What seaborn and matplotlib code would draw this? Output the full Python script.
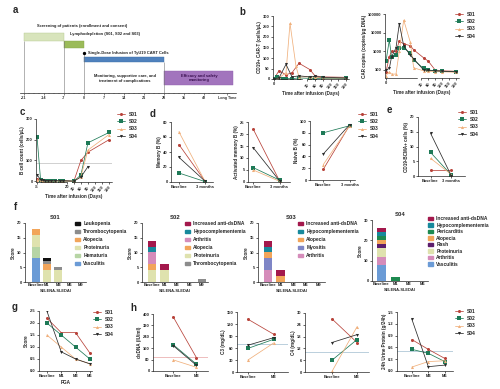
import numpy as np
import seaborn as sns
import matplotlib.pyplot as plt
from matplotlib.lines import Line2D
from matplotlib.patches import Patch

W, H = 500, 389
nan = np.nan

subjects = ["S01", "S02", "S03", "S04"]

# a: treatment timeline (days)
timeline_ticks = [-21, -14, -7, 0, 7, 14, 21, 28, 35, 42]
long_time_day = 50
phase_start = [-21, -7, 0, 28]
phase_end = [-7, 0, 28, 52]

# b: CAR-T kinetics
b_days = [0, 3, 5, 9, 12, 16, 18, 22, 25, 40, 60, 90, 120, 180]
cart_cells = {
    "S01": [0, nan, 40, nan, 20, nan, 30, nan, 75, 45, 15, 10, nan, 8],
    "S02": [0, 10, nan, 2, 2, nan, 2, nan, 5, 3, 3, 3, nan, 3],
    "S03": [0, nan, 5, nan, 30, 265, nan, 60, 10, 10, 8, 5, nan, 5],
    "S04": [0, nan, 5, nan, 70, nan, 10, nan, 15, 10, 12, 8, nan, 5],
}
car_copies = {
    "S01": [80, 500, 1000, 1000, 3500, 2500, nan, 2000, 1200, 450, 300, 100, 90, 85],
    "S02": [300, 4000, 500, 600, 1500, 1500, nan, 800, 340, 120, 100, 90, 85, 80],
    "S03": [50, 80, 60, 60, 1000, 47000, nan, 3000, 130, 90, 85, 80, 80, 75],
    "S04": [100, 120, 500, 1500, 30000, 2000, nan, 600, 400, 100, 95, 90, 85, 80],
}
late_ticks = [30, 60, 90, 120, 150, 180]

# c: B cell recovery
c_days = [-5, -2, 0, 2, 4, 7, 10, 14, 17, 30, 60, 90, 180]
bcell = {
    "S01": [10, 8, 5, 5, 4, 3, 2, 2, 2, 0, 100, 140, 200],
    "S02": [215, 5, 3, 2, 2, 2, 2, 1, 1, 0, 30, 185, 235],
    "S03": [5, 5, 3, 2, 2, 1, 1, 1, 1, 0, 22, 150, 225],
    "S04": [30, 8, 4, 3, 2, 2, 2, 2, 2, 0, 20, 70, nan],
}
bcell_ref = 90

# d / e: B cell subsets
de_visits = ["Baseline", "3 months"]
memory_b = {"S01": [50, 1], "S02": [12, 0.5], "S03": [67, 0.5], "S04": [33, 1]}
act_memory_b = {"S01": [22, 0.5], "S02": [6, 0.8], "S03": [5, 0.3], "S04": [14.3, 0.5]}
naive_b = {"S01": [18, 93], "S02": [80, 92], "S03": [26, 92], "S04": [44, 94]}
bcma_b = {"S01": [2, 2], "S02": [8, 0.3], "S03": [6, 0.5], "S04": [14.5, 0]}

# f: SELENA-SLEDAI components (bottom to top)
sledai_visits = ["Baseline", "M1", "M3", "M6", "M9"]
s04_visits = ["Baseline", "M1", "M3", "M6"]
sledai_S01 = {
    "Vasculitis": [8, 0, 0, 0, 0], "Hematuria": [4, 0, 0, 0, 0],
    "Proteinuria": [4, 4, 4, 0, 0], "Alopecia": [2, 2, 0, 0, 0],
    "Thrombocytopenia": [0, 1, 1, 0, 0], "Leukopenia": [0, 1, 0, 0, 0],
}
sledai_S02 = {
    "Thrombocytopenia": [0, 0, 0, 0, 1], "Proteinuria": [4, 4, 0, 0, 0],
    "Alopecia": [2, 0, 0, 0, 0], "Arthritis": [4, 0, 0, 0, 0],
    "Hypocomplementemia": [2, 0, 0, 0, 0], "Increased anti-dsDNA": [2, 2, 0, 0, 0],
}
sledai_S03 = {
    "Arthritis": [4, 0, 0, 0, 0], "Myositis": [4, 0, 0, 0, 0],
    "Alopecia": [2, 2, 0, 0, 0], "Hypocomplementemia": [2, 0, 0, 0, 0],
    "Increased anti-dsDNA": [2, 2, 0, 0, 0],
}
sledai_S04 = {
    "Vasculitis": [8, 0, 0, 0], "Arthritis": [4, 0, 0, 0], "Proteinuria": [4, 0, 0, 0],
    "Rash": [2, 0, 0, 0], "Alopecia": [2, 0, 0, 0], "Pericarditis": [2, 2, 0, 0],
    "Hypocomplementemia": [2, 0, 0, 0], "Increased anti-dsDNA": [2, 0, 0, 0],
}

# g: PGA
pga_visits = ["Baseline", "M1", "M3", "M6"]
pga = {"S01": [2.2, 1.6, 1.6, 0.75], "S02": [2.0, 1.5, 1.0, 0.5],
       "S03": [1.5, 1.0, 0.5, 0.3], "S04": [2.5, 0.8, 0.5, 0.3]}

# h: lab values
lab_visits = ["Baseline", "M3"]
urine_visits = ["Baseline", "M3", "M6"]
dsdna = {"S01": [380, 94], "S02": [185, 48], "S03": [78, 26], "S04": [178, 40]}
c3 = {"S01": [132, 94], "S02": [59, 82], "S03": [30, 73], "S04": [67, 86]}
c4 = {"S01": [27, 15], "S02": [6, 16.5], "S03": [0.3, 23], "S04": [15, 19]}
urine = {"S01": [0.8, 0.55, 0.32], "S02": [0.55, 0.45, 0.24],
         "S03": [0.1, 0.24, 0.26], "S04": [1.32, 0.11, 0.15]}
dsdna_ref, c3_ref, c4_ref, urine_ref = 100, 70, 10, 0.5

# styling
subject_colors = {"S01": "#b8433a", "S02": "#1e7a57", "S03": "#f0b07c", "S04": "#2b2b2b"}
subject_markers = {"S01": "o", "S02": "s", "S03": "^", "S04": "v"}
item_colors = {
    "Leukopenia": "#111111", "Thrombocytopenia": "#8c8c8c", "Alopecia": "#f2a55a",
    "Proteinuria": "#dfe2ae", "Hematuria": "#b7d5a5", "Vasculitis": "#6b9bd6",
    "Increased anti-dsDNA": "#a3184c", "Hypocomplementemia": "#17899c",
    "Arthritis": "#d58cba", "Myositis": "#7f86c6", "Pericarditis": "#1e8a50",
    "Rash": "#5c1d6c",
}

sns.set_theme(style="ticks")
plt.rcParams["font.family"] = ["Liberation Sans", "DejaVu Sans"]
plt.rcParams["font.weight"] = "bold"
plt.rcParams["axes.labelweight"] = "bold"
TICK, LAB, LEG = 2.9, 3.3, 3.5

fig = plt.figure(figsize=(W / 100, H / 100), dpi=100)


def px_ax(x0, y0, x1, y1):
    return fig.add_axes([x0 / W, 1 - y1 / H, (x1 - x0) / W, (y1 - y0) / H])


def prism(ax):
    sns.despine(ax=ax)
    for s in ["left", "bottom"]:
        ax.spines[s].set_linewidth(0.5)
    ax.tick_params(length=1.5, width=0.5, pad=0.8, labelsize=TICK, colors="#222222")
    ax.set_facecolor("none")


def subject_lines(ax, x, series):
    x = np.asarray(x, float)
    for s in subjects:
        y = np.asarray(series[s], float)
        ok = ~np.isnan(y)
        sns.lineplot(x=x[ok], y=y[ok], color=subject_colors[s], marker=subject_markers[s],
                     markersize=2.2, markeredgewidth=0, linewidth=0.55, ax=ax,
                     sort=False, legend=False, errorbar=None)


def subject_legend(ax, x, y):
    handles = [Line2D([], [], color=subject_colors[s], marker=subject_markers[s],
                      lw=0.55, ms=2.2, mew=0) for s in subjects]
    ax.legend(handles, subjects, loc="upper left", bbox_to_anchor=(x / W, 1 - y / H),
              bbox_transform=fig.transFigure, frameon=False, fontsize=LEG,
              handlelength=1.7, handletextpad=0.7, labelspacing=0.45,
              borderpad=0, borderaxespad=0)


def pw(v, a, b):
    v = np.asarray(v, float)
    out = np.interp(v, a, b)
    out = np.where(v < a[0], b[0] + (v - a[0]) * (b[1] - b[0]) / (a[1] - a[0]), out)
    out = np.where(v > a[-1], b[-1] + (v - a[-1]) * (b[-1] - b[-2]) / (a[-1] - a[-2]), out)
    return out


def broken_x(ax, xd, xp, px_lo, px_hi, left_ticks):
    ax.set_xscale("function", functions=(lambda v: pw(v, xd, xp), lambda v: pw(v, xp, xd)))
    lo, hi = float(pw(px_lo, xp, xd)), float(pw(px_hi, xp, xd))
    ax.set_xlim(lo, hi)
    ticks = list(left_ticks) + late_ticks
    ax.set_xticks(ticks, [str(t) for t in ticks])
    for lab in ax.get_xticklabels()[len(left_ticks):]:
        lab.set_rotation(50)
        lab.set_ha("right")
        lab.set_rotation_mode("anchor")
    ax.spines["bottom"].set_visible(False)
    tr = ax.get_xaxis_transform()
    ax.plot([lo, xd[1]], [0, 0], transform=tr, color="#222222", lw=0.5, clip_on=False)
    ax.plot([xd[2], hi], [0, 0], transform=tr, color="#222222", lw=0.5, clip_on=False)


def cat_axis(ax, labels, lo, hi):
    ax.set_xticks(range(len(labels)), labels)
    ax.set_xlim(lo, hi)


def stacked(ax, visits, layers, lx, ly, spacing):
    x = np.arange(len(visits))
    bottom = np.zeros(len(visits))
    for name, vals in layers.items():
        ax.bar(x, vals, bottom=bottom, width=0.68, color=item_colors[name], linewidth=0)
        bottom += np.asarray(vals, float)
    ax.set_xticks(x, visits)
    names = list(layers)[::-1]
    ax.legend([Patch(color=item_colors[n]) for n in names], names, loc="upper left",
              bbox_to_anchor=(lx / W, 1 - ly / H), bbox_transform=fig.transFigure,
              frameon=False, fontsize=LEG, handlelength=1.1, handleheight=0.75,
              handletextpad=0.6, labelspacing=spacing, borderpad=0, borderaxespad=0)
    ax.set_xlabel("SELENA-SLEDAI", fontsize=TICK, labelpad=1.5)
    ax.set_ylabel("Score", fontsize=LAB, labelpad=1)


def panel_label(x, y, s):
    fig.text(x / W, 1 - y / H, s, fontsize=7, fontweight="bold", va="center", ha="center")


# ---------------- a ----------------
ax = px_ax(20, 15, 236, 93)
ax.set_xlim(-22.4, 53.2)
ax.set_ylim(93, 15)
bar_rows = [37, 44.5, 59.5, 78]
bar_heights = [8, 7, 5, 14]
bar_colors = ["#d8e4bc", "#9bbb59", "#4f81bd", "#a274bd"]
ax.barh(bar_rows, np.subtract(phase_end, phase_start), left=phase_start, height=bar_heights,
        color=bar_colors, edgecolor=["#b5c98f", "#86a64a", "#3f6fa8", "#8f5fae"], linewidth=0.3)
ax.vlines(phase_start, [41, 41, 53, 62], 93, color="#777777", lw=0.4)
ax.plot([phase_start[2]], [53], marker="o", ms=1.4, color="black")
sns.despine(ax=ax, left=True)
ax.spines["bottom"].set_linewidth(0.5)
ax.set_yticks([])
ax.set_xticks(timeline_ticks + [long_time_day],
              [str(t) for t in timeline_ticks] + ["Long Time"])
ax.set_xticks(np.arange(-21, 51, 1.75), minor=True)
ax.tick_params(axis="x", which="major", length=1.6, width=0.4, pad=0.8, labelsize=2.7,
               colors="#333333")
ax.tick_params(axis="x", which="minor", length=0.9, width=0.3, colors="#333333")
ax.set_facecolor("none")
tkw = dict(fontsize=2.9, fontweight="bold", color="#222222", va="center")
ax.text(-16.4, 26, "Screening of patients (enrollment and consent)", **tkw)
ax.text(-4.9, 34, "Lymphodepletion (S01, S02 and S03)", **tkw)
ax.text(1.4, 53, "Single-Dose Infusion of TyU19 CART Cells", **tkw)
ax.text(14.4, 78.5, "Monitoring, supportive care, and\ntreatment of complications",
        ha="center", linespacing=1.2, **{k: v for k, v in tkw.items() if k != "va"}, va="center")
ax.text(40.3, 78, "Efficacy and safety\nmonitoring", ha="center", linespacing=1.2,
        fontsize=2.9, fontweight="bold", color="#3a1050", va="center")
panel_label(15, 10, "a")

# ---------------- b ----------------
ax = px_ax(273, 16, 349, 79)
subject_lines(ax, b_days, cart_cells)
prism(ax)
broken_x(ax, [0, 28, 29, 180], [274, 302, 307, 346], 273, 349, [0])
ax.set_ylim(0, 300)
ax.set_yticks(range(0, 301, 50))
ax.set_ylabel("CD19+ CAR-T (cells/μL)", fontsize=LAB, labelpad=1)
ax.set_xlabel("Time after infusion (Days)", fontsize=LAB, labelpad=1)

ax = px_ax(385, 14, 459, 78)
subject_lines(ax, b_days, car_copies)
prism(ax)
ax.set_yscale("log")
broken_x(ax, [0, 28, 29, 180], [386, 417, 421, 456], 385, 459, [0])
ax.set_ylim(37, 100000)
ax.set_yticks([100, 1000, 10000, 100000], ["100", "1000", "10000", "100000"])
ax.minorticks_off()
ax.set_ylabel("CAR copies (copies/μg DNA)", fontsize=LAB, labelpad=1)
ax.set_xlabel("Time after infusion (Days)", fontsize=LAB, labelpad=1)
subject_legend(ax, 455, 12)
panel_label(242, 12, "b")

# ---------------- c ----------------
ax = px_ax(36, 119, 112, 182)
ax.axhline(bcell_ref, color="#bdbdbd", lw=0.5)
subject_lines(ax, c_days, bcell)
prism(ax)
broken_x(ax, [-5, 20, 22, 180], [37, 67, 72, 109], 36, 112, [-5, 20])
ax.set_ylim(-4, 300)
ax.set_yticks([0, 100, 200, 300])
ax.set_ylabel("B cell count (cells/μL)", fontsize=LAB, labelpad=1)
ax.set_xlabel("Time after infusion (Days)", fontsize=LAB, labelpad=1)
subject_legend(ax, 117, 112)
panel_label(22, 112, "c")

# ---------------- d ----------------
d_specs = [
    (memory_b, (171, 122, 213, 182), (-0.3, 1.3), 80, 20, "Memory B (%)"),
    (act_memory_b, (248, 122, 290, 182), (-0.2, 1.4), 25, 5, "Activated memory B (%)"),
    (naive_b, (310, 121, 355, 180), (-0.5, 1.2), 100, 20, "Naive B (%)"),
]
for series, box, xl, top, step, lab in d_specs:
    ax = px_ax(*box)
    subject_lines(ax, [0, 1], series)
    prism(ax)
    cat_axis(ax, de_visits, *xl)
    ax.set_ylim(0, top)
    ax.set_yticks(np.arange(0, top + 0.1, step))
    ax.set_ylabel(lab, fontsize=LAB, labelpad=1)
subject_legend(ax, 358, 112)
panel_label(153, 114, "d")

# ---------------- e ----------------
ax = px_ax(418, 117, 465, 176)
subject_lines(ax, [0, 1], bcma_b)
prism(ax)
cat_axis(ax, de_visits, -0.6, 1.65)
ax.set_ylim(0, 20)
ax.set_yticks([0, 5, 10, 15, 20])
ax.set_ylabel("CD19-BCMA+ cells (%)", fontsize=LAB, labelpad=1)
subject_legend(ax, 458, 110)
panel_label(389, 110, "e")

# ---------------- f ----------------
f_specs = [
    (sledai_S01, sledai_visits, (25, 223, 86, 282), (-0.95, 4.45), 20, 5, "S01", (75, 221), 0.62),
    (sledai_S02, sledai_visits, (142, 223, 208, 282), (-0.8, 4.5), 20, 5, "S02", (185, 221), 0.62),
    (sledai_S03, sledai_visits, (258, 223, 325, 282), (-0.8, 4.5), 20, 5, "S03", (298, 221), 0.62),
    (sledai_S04, s04_visits, (372, 220, 428, 281), (-0.7, 3.4), 30, 10, "S04", (428, 216), 0.32),
]
for layers, visits, box, xl, top, step, title, (lx, ly), sp in f_specs:
    ax = px_ax(*box)
    stacked(ax, visits, layers, lx, ly, sp)
    prism(ax)
    ax.set_xlim(*xl)
    ax.set_ylim(0, top)
    ax.set_yticks(np.arange(0, top + 1, step))
    ax.tick_params(axis="x", length=0)
    ax.set_title(title, fontsize=4.3, fontweight="bold", pad=3)
panel_label(15, 207, "f")

# ---------------- g ----------------
ax = px_ax(39, 311, 92, 371)
subject_lines(ax, range(len(pga_visits)), pga)
prism(ax)
cat_axis(ax, pga_visits, -0.55, 3.15)
ax.set_ylim(0, 2.5)
ax.set_yticks(np.arange(0, 2.51, 0.5), [f"{v:.1f}" for v in np.arange(0, 2.51, 0.5)])
ax.set_ylabel("Score", fontsize=LAB, labelpad=1)
ax.set_xlabel("PGA", fontsize=LAB, labelpad=1)
subject_legend(ax, 93, 310)
panel_label(15, 307, "g")

# ---------------- h ----------------
h_specs = [
    (dsdna, lab_visits, (153, 314, 208, 371), (-0.87, 1.5), 400, 80, dsdna_ref, "#e8a3a3",
     "dsDNA (IU/ml)", "{:.0f}"),
    (c3, lab_visits, (237, 312, 288, 372), (-0.42, 1.54), 150, 30, c3_ref, "#9fbccf",
     "C3 (mg/dL)", "{:.0f}"),
    (c4, lab_visits, (305, 313, 369, 372), (-1.08, 1.48), 30, 6, c4_ref, "#9fbccf",
     "C4 (mg/dL)", "{:.0f}"),
    (urine, urine_visits, (397, 312, 453, 371), (-0.9, 2.5), 1.5, 0.3, urine_ref, "#9fbccf",
     "24h Urine Protein (g/24h)", "{:.1f}"),
]
for series, visits, box, xl, top, step, ref, rc, lab, fmt in h_specs:
    ax = px_ax(*box)
    ax.axhline(ref, color=rc, lw=0.5)
    subject_lines(ax, range(len(visits)), series)
    prism(ax)
    cat_axis(ax, visits, *xl)
    ax.set_ylim(0, top)
    yt = np.arange(0, top + step / 2, step)
    ax.set_yticks(yt, [fmt.format(v) for v in yt])
    ax.set_ylabel(lab, fontsize=LAB, labelpad=1)
subject_legend(ax, 455, 309)
panel_label(133, 308, "h")

fig.savefig("out.png", dpi=100)
